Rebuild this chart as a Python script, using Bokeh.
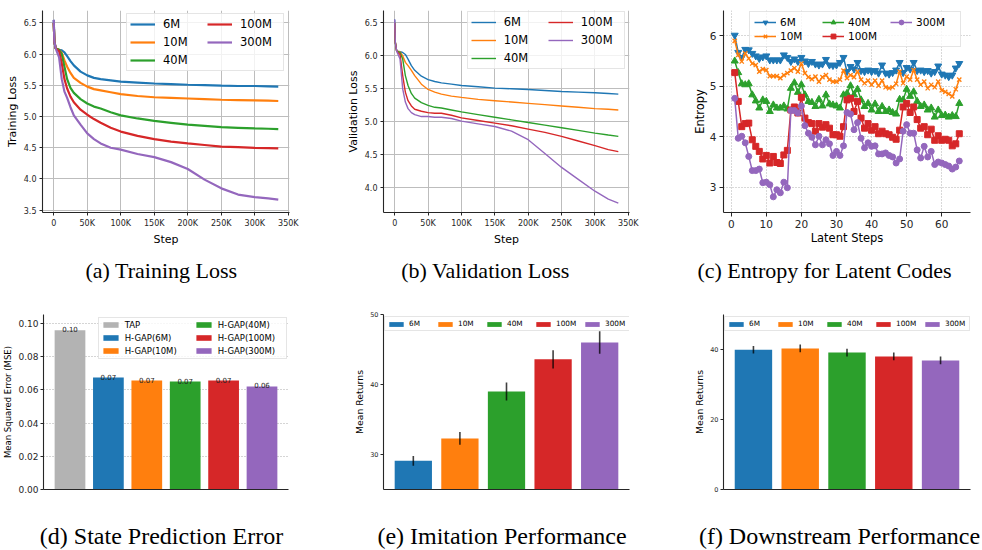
from bokeh.plotting import figure
from bokeh.models import Range1d, FixedTicker, ColumnDataSource, PrintfTickFormatter
from bokeh.layouts import row, column
from bokeh.embed import file_html
from bokeh.resources import INLINE
from bokeh.core.properties import value

# ---------------- data ----------------
sizes = ["6M", "10M", "40M", "100M", "300M"]
colors = ["#1f77b4", "#ff7f0e", "#2ca02c", "#d62728", "#9467bd"]

steps_k = [0, 1, 3, 8, 12, 16, 20, 25, 30, 40, 50, 60, 70, 85, 100, 125, 150,
           175, 200, 225, 250, 275, 300, 320, 335]

train_6m = [6.55, 6.2, 6.09, 6.07, 6.06, 6.03, 5.97, 5.89, 5.82, 5.72, 5.66, 5.62, 5.60,
            5.58, 5.56, 5.545, 5.53, 5.52, 5.51, 5.505, 5.495, 5.49, 5.49, 5.485, 5.48]
train_10m = [6.5, 6.2, 6.09, 6.07, 6.02, 5.9, 5.8, 5.7, 5.62, 5.54, 5.48, 5.44, 5.42,
             5.39, 5.36, 5.33, 5.31, 5.30, 5.29, 5.28, 5.27, 5.265, 5.26, 5.255, 5.25]
train_40m = [6.5, 6.2, 6.09, 6.07, 6.0, 5.8, 5.6, 5.46, 5.38, 5.28, 5.21, 5.16, 5.13,
             5.07, 5.02, 4.97, 4.93, 4.9, 4.87, 4.85, 4.83, 4.82, 4.81, 4.805, 4.8]
train_100m = [6.5, 6.2, 6.09, 6.05, 5.85, 5.6, 5.45, 5.32, 5.23, 5.11, 5.03, 4.96, 4.9,
              4.82, 4.76, 4.69, 4.64, 4.6, 4.57, 4.545, 4.52, 4.51, 4.50, 4.495, 4.49]
train_300m = [6.55, 6.2, 6.09, 5.95, 5.6, 5.4, 5.3, 5.15, 5.02, 4.87, 4.73, 4.64, 4.57,
              4.5, 4.47, 4.4, 4.35, 4.27, 4.16, 3.99, 3.85, 3.75, 3.71, 3.69, 3.67]

val_6m = [6.55, 6.2, 6.07, 6.06, 6.05, 6.02, 5.95, 5.85, 5.78, 5.69, 5.64, 5.61, 5.59,
          5.57, 5.55, 5.53, 5.51, 5.50, 5.49, 5.475, 5.46, 5.45, 5.44, 5.43, 5.42]
val_10m = [6.5, 6.2, 6.07, 6.06, 6.0, 5.9, 5.85, 5.78, 5.7, 5.57, 5.49, 5.45, 5.42,
           5.39, 5.37, 5.34, 5.32, 5.3, 5.28, 5.26, 5.24, 5.22, 5.2, 5.19, 5.18]
val_40m = [6.5, 6.2, 6.07, 6.05, 5.95, 5.7, 5.55, 5.43, 5.36, 5.29, 5.25, 5.22, 5.21,
           5.18, 5.15, 5.11, 5.07, 5.03, 4.99, 4.95, 4.91, 4.87, 4.83, 4.8, 4.78]
val_100m = [6.5, 6.2, 6.07, 6.02, 5.7, 5.45, 5.32, 5.24, 5.19, 5.16, 5.14, 5.13, 5.13,
            5.1, 5.06, 5.02, 4.98, 4.94, 4.89, 4.84, 4.78, 4.71, 4.64, 4.58, 4.55]
val_300m = [6.55, 6.2, 6.07, 5.95, 5.5, 5.3, 5.2, 5.14, 5.11, 5.08, 5.08, 5.07, 5.07,
            5.05, 5.01, 4.97, 4.93, 4.86, 4.73, 4.52, 4.31, 4.13, 3.95, 3.83, 3.77]

latent_steps = list(range(1, 66))
ent_6m = [6.01, 5.67, 5.57, 5.73, 5.72, 5.65, 5.60, 5.55, 5.58, 5.60,
          5.52, 5.52, 5.52, 5.52, 5.62, 5.57, 5.49, 5.54, 5.49, 5.57,
          5.50, 5.45, 5.49, 5.44, 5.42, 5.44, 5.53, 5.42, 5.41, 5.42,
          5.47, 5.57, 5.29, 5.39, 5.34, 5.47, 5.31, 5.29, 5.32, 5.29,
          5.31, 5.26, 5.42, 5.26, 5.24, 5.27, 5.32, 5.47, 5.27, 5.37,
          5.34, 5.47, 5.31, 5.32, 5.29, 5.31, 5.26, 5.29, 5.40, 5.24,
          5.22, 5.19, 5.22, 5.36, 5.45]
ent_10m = [5.90, 5.62, 5.49, 5.65, 5.55, 5.45, 5.42, 5.29, 5.34, 5.32,
           5.20, 5.20, 5.20, 5.16, 5.22, 5.26, 5.31, 5.36, 5.29, 5.45,
           5.26, 5.18, 5.14, 5.19, 5.09, 5.18, 5.22, 5.13, 5.09, 5.09,
           5.13, 5.31, 5.16, 5.22, 5.18, 5.29, 5.13, 5.06, 5.11, 5.03,
           5.11, 5.01, 5.11, 4.98, 4.96, 4.98, 5.05, 5.29, 5.06, 5.19,
           5.13, 5.32, 5.13, 5.03, 5.09, 4.96, 5.03, 4.98, 5.09, 4.92,
           4.89, 4.85, 4.80, 4.94, 5.13]
ent_40m = [5.50, 5.27, 5.05, 5.03, 5.05, 4.83, 4.71, 4.57, 4.73, 4.70,
           4.50, 4.63, 4.57, 4.57, 4.61, 4.55, 4.96, 5.07, 4.88, 5.03,
           4.83, 4.70, 4.68, 4.60, 4.74, 4.61, 4.83, 4.65, 4.63, 4.61,
           4.57, 4.83, 4.86, 5.01, 4.83, 4.94, 4.73, 4.60, 4.66, 4.53,
           4.65, 4.50, 4.60, 4.50, 4.53, 4.48, 4.45, 4.74, 4.73, 4.94,
           4.80, 4.89, 4.70, 4.60, 4.63, 4.53, 4.57, 4.39, 4.53, 4.42,
           4.43, 4.39, 4.42, 4.40, 4.66]
ent_100m = [5.27, 4.70, 4.20, 4.26, 4.27, 3.94, 3.81, 3.71, 3.56, 3.63,
            3.48, 3.61, 3.49, 3.47, 3.64, 3.73, 4.53, 4.59, 4.47, 4.78,
            4.37, 4.28, 4.26, 4.11, 4.26, 4.19, 4.24, 4.17, 4.04, 4.04,
            4.01, 4.20, 4.73, 4.76, 4.50, 4.70, 4.37, 4.17, 4.26, 4.13,
            4.20, 4.06, 4.11, 4.06, 4.04, 3.99, 3.95, 4.13, 4.59, 4.66,
            4.48, 4.59, 4.34, 4.17, 4.20, 4.04, 4.15, 3.93, 4.02, 3.93,
            3.95, 3.93, 3.82, 3.86, 4.06]
ent_300m = [4.76, 3.97, 4.01, 3.88, 3.61, 3.33, 3.33, 3.36, 3.09, 3.10,
            3.05, 2.81, 2.95, 2.89, 3.10, 2.99, 4.52, 4.52, 4.47, 4.61,
            4.22, 4.07, 3.99, 3.84, 4.01, 3.84, 3.94, 3.86, 3.63, 3.71,
            3.63, 3.82, 4.48, 4.45, 4.14, 4.28, 3.97, 3.78, 3.88, 3.81,
            3.82, 3.66, 3.66, 3.68, 3.63, 3.60, 3.48, 3.56, 4.11, 4.24,
            4.07, 4.07, 3.74, 3.58, 3.81, 3.60, 3.71, 3.45, 3.50, 3.48,
            3.45, 3.42, 3.36, 3.40, 3.52]
ent_markers = ["inverted_triangle", "x", "triangle", "square", "circle"]

mse_labels = ["TAP", "H-GAP(6M)", "H-GAP(10M)", "H-GAP(40M)", "H-GAP(100M)", "H-GAP(300M)"]
mse_values = [0.0960, 0.0675, 0.0657, 0.0651, 0.0657, 0.0621]
mse_colors = ["#b3b3b3"] + colors

imit_means = [29.1, 32.3, 39.0, 43.6, 46.0]
imit_err = [0.7, 0.9, 1.3, 1.3, 1.6]
down_means = [40.0, 40.4, 39.2, 38.1, 36.95]
down_err = [1.1, 1.1, 1.1, 1.1, 1.1]

step_ticks = [0, 50, 100, 150, 200, 250, 300, 350]
step_tick_labels = ["0", "50K", "100K", "150K", "200K", "250K", "300K", "350K"]

captions_top = ["(a) Training Loss", "(b) Validation Loss", "(c) Entropy for Latent Codes"]
captions_bottom = ["(d) State Prediction Error", "(e) Imitation Performance",
                   "(f) Downstream Performance"]

# ---------------- styling helpers ----------------
FONT = "DejaVu Sans"
SERIF = "Liberation Serif"
AXC = "#262626"
W_A, W_B, W_C = 330, 330, 321


def make_fig(w, h, l, r, t, b, xr, yr):
    p = figure(width=w, height=h, x_range=Range1d(*xr), y_range=Range1d(*yr),
               output_backend="svg", toolbar_location=None,
               min_border_left=l, min_border_right=r,
               min_border_top=t, min_border_bottom=b)
    p.outline_line_color = None
    p.background_fill_color = "white"
    return p


def style_axes(p, tick_size, label_size, tick_out=3, tick_standoff=2, label_standoff=2):
    for ax in (p.xaxis[0], p.yaxis[0]):
        ax.axis_line_color = AXC
        ax.axis_line_width = 1.1
        ax.major_tick_line_color = AXC
        ax.major_tick_out = tick_out
        ax.major_tick_in = 0
        ax.minor_tick_line_color = None
        ax.major_label_text_font = FONT
        ax.major_label_text_font_size = tick_size
        ax.major_label_text_color = AXC
        ax.major_label_standoff = tick_standoff
        ax.axis_label_text_font = FONT
        ax.axis_label_text_font_size = label_size
        ax.axis_label_text_font_style = "normal"
        ax.axis_label_text_color = "black"
        ax.axis_label_standoff = label_standoff


def style_legend(lg, loc, font_size, glyph_w, glyph_h, label_h, spacing, padding,
                 label_w, standoff, ncols=None, orientation="vertical"):
    lg.location = loc
    lg.orientation = orientation
    if ncols:
        lg.ncols = ncols
    lg.label_text_font = FONT
    lg.label_text_font_size = font_size
    lg.label_text_color = "black"
    lg.glyph_width = int(glyph_w)
    lg.glyph_height = int(glyph_h)
    lg.label_height = int(label_h)
    lg.label_width = int(label_w)
    lg.spacing = int(spacing)
    lg.padding = int(padding)
    lg.margin = 0
    lg.label_standoff = int(standoff)
    lg.border_line_color = "#cccccc"
    lg.border_line_width = 1
    lg.background_fill_alpha = 0.8


def caption_fig(w, h, xs, y, texts, size):
    p = figure(width=w, height=h, x_range=Range1d(0, w), y_range=Range1d(0, h),
               x_axis_type=None, y_axis_type=None, output_backend="svg",
               toolbar_location=None, min_border_left=0, min_border_right=0,
               min_border_top=0, min_border_bottom=0)
    p.outline_line_color = None
    p.text(x=xs, y=[y] * len(xs), text=texts, text_font=value(SERIF),
           text_font_size=value(size), text_align="center", text_baseline="alphabetic",
           text_color="black")
    return p


def loss_panel(w, l, r, xr, yr, ylabel, series, legend_loc, lw, yticks):
    p = make_fig(w, 250, l, r, 10, 38 if l == 42 else 37, xr, yr)
    for s, c, name in zip(series, colors, sizes):
        p.line(steps_k, s, line_color=c, line_width=lw, legend_label=name)
    p.xaxis.ticker = FixedTicker(ticks=step_ticks)
    p.xaxis.major_label_overrides = dict(zip(step_ticks, step_tick_labels))
    p.yaxis.ticker = FixedTicker(ticks=yticks)
    p.yaxis.formatter = PrintfTickFormatter(format="%.1f")
    p.xaxis.axis_label = "Step"
    p.yaxis.axis_label = ylabel
    style_axes(p, "8px", "11px", tick_out=3, tick_standoff=3, label_standoff=2)
    for g in (p.xgrid[0], p.ygrid[0]):
        g.grid_line_color = "#bdbdbd"
        g.grid_line_width = 1
    style_legend(p.legend[0], legend_loc, "11.5px", 25, 14, 14, 4, 3, 40, 8, ncols=2)
    return p


# ---------------- (a) training loss ----------------
pa = loss_panel(W_A, 42, 41, (-16.75, 351.75), (3.463, 6.70), "Training Loss",
                [train_6m, train_10m, train_40m, train_100m, train_300m],
                (84, 141), 2.2, [3.5, 4.0, 4.5, 5.0, 5.5, 6.0, 6.5])

# ---------------- (b) validation loss ----------------
pb = loss_panel(W_B, 53, 31, (-16.75, 351.75), (3.628, 6.685), "Validation Loss",
                [val_6m, val_10m, val_40m, val_100m, val_300m],
                (83.7, 143), 1.4, [4.0, 4.5, 5.0, 5.5, 6.0, 6.5])

# ---------------- (c) entropy ----------------
pc = make_fig(W_C, 250, 63, 11, 10, 37, (-2.2, 68.2), (2.5, 6.5))
for s, c, name, mk in zip([ent_6m, ent_10m, ent_40m, ent_100m, ent_300m], colors, sizes, ent_markers):
    p_size = 7 if "triangle" in mk else 6
    pc.line(latent_steps, s, line_color=c, line_width=1.5, legend_label=name)
    pc.scatter(latent_steps, s, marker=mk, size=p_size, fill_color=c, line_color=c,
               line_width=1.3 if mk == "x" else 1, legend_label=name)
pc.xaxis.ticker = FixedTicker(ticks=[0, 10, 20, 30, 40, 50, 60])
pc.yaxis.ticker = FixedTicker(ticks=[3, 4, 5, 6])
pc.xaxis.axis_label = "Latent Steps"
pc.yaxis.axis_label = "Entropy"
style_axes(pc, "10.5px", "11.5px", tick_out=4, tick_standoff=3, label_standoff=0)
for g in (pc.xgrid[0], pc.ygrid[0]):
    g.grid_line_color = "#b0b0b0"
    g.grid_line_dash = "1 2"
    g.grid_line_width = 1
style_legend(pc.legend[0], (26, 165), "10.5px", 22, 12, 12, 2, 4, 40, 4, ncols=3)

# ---------------- (d) state prediction error ----------------
pd_ = make_fig(W_A, 205, 42, 42, 14, 16, (-0.69, 5.69), (0, 0.1055))
mse_x = list(range(len(mse_labels)))
src_d = ColumnDataSource(dict(x=mse_x, top=mse_values, color=mse_colors, label=mse_labels,
                              txt=["%.2f" % v for v in mse_values]))
pd_.vbar(x="x", top="top", width=0.8, bottom=0, fill_color="color", line_color=None,
         legend_field="label", source=src_d)
pd_.text(x="x", y="top", text="txt", source=src_d, text_align="center",
         text_baseline="alphabetic", text_font=value(FONT), text_font_size=value("7px"),
         text_color="#222222", y_offset=-1)
pd_.yaxis.ticker = FixedTicker(ticks=[0.0, 0.02, 0.04, 0.06, 0.08, 0.10])
pd_.yaxis.formatter = PrintfTickFormatter(format="%.2f")
pd_.xaxis.ticker = FixedTicker(ticks=[])
pd_.yaxis.axis_label = "Mean Squared Error (MSE)"
style_axes(pd_, "9px", "8.5px", tick_out=3, tick_standoff=2, label_standoff=2)
pd_.xaxis.major_tick_out = 0
pd_.xaxis.major_label_standoff = 0
pd_.xgrid.grid_line_color = None
pd_.ygrid.grid_line_color = "#aaaaaa"
pd_.ygrid.grid_line_dash = "1 2"
style_legend(pd_.legend[0], (54.7, 130.3), "8.5px", 19, 7, 10, 3, 2, 66, 5, ncols=2)


# ---------------- (e) / (f) returns ----------------
def returns_panel(w, l, r, yr, means, errs, yticks):
    p = make_fig(w, 205, l, r, 14, 16, (-0.64, 4.64), yr)
    xs = list(range(len(sizes)))
    src = ColumnDataSource(dict(x=xs, top=means, color=colors, label=sizes,
                                lo=[m - e for m, e in zip(means, errs)],
                                hi=[m + e for m, e in zip(means, errs)]))
    p.vbar(x="x", top="top", width=0.8, bottom=0, fill_color="color", line_color=None,
           legend_field="label", source=src)
    p.segment(x0="x", y0="lo", x1="x", y1="hi", source=src, line_color="black",
              line_alpha=0.75, line_width=1.6)
    p.yaxis.ticker = FixedTicker(ticks=yticks)
    p.xaxis.ticker = FixedTicker(ticks=[])
    p.yaxis.axis_label = "Mean Returns"
    style_axes(p, "6.5px", "9.3px", tick_out=3, tick_standoff=2, label_standoff=2)
    p.xaxis.major_tick_out = 0
    p.xaxis.major_label_standoff = 0
    p.xgrid.grid_line_color = None
    p.ygrid.grid_line_color = None
    style_legend(p.legend[0], (1, 158), "7.3px", 18, 6, 9, 5, 2, 22, 4,
                 orientation="horizontal")
    return p


pe = returns_panel(W_B, 53, 31, (25, 50), imit_means, imit_err, [30, 40, 50])
pf = returns_panel(W_C, 63, 11, (0, 50.1), down_means, down_err, [0, 20, 40])

TOTAL_W = W_A + W_B + W_C
cap_top = caption_fig(TOTAL_W, 50, [161, 485, 824], 30, captions_top, "22px")
cap_bot = caption_fig(TOTAL_W, 44, [161, 501.5, 839], 14, captions_bottom, "24px")

layout = column(row(pa, pb, pc), cap_top, row(pd_, pe, pf), cap_bot)

open("out.html", "w").write(file_html(layout, INLINE))
